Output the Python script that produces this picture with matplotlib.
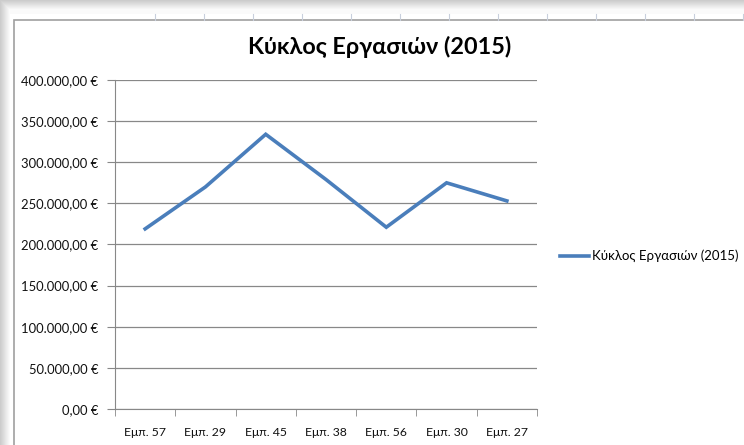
import numpy as np
import matplotlib.pyplot as plt
from matplotlib.patches import Rectangle
from matplotlib.lines import Line2D

# donnees
employes = ['Εμπ. 57', 'Εμπ. 29', 'Εμπ. 45', 'Εμπ. 38', 'Εμπ. 56', 'Εμπ. 30', 'Εμπ. 27']
kyklos = [219000, 270000, 334000, 279000, 221000, 275000, 253000]
yticks = [0, 50000, 100000, 150000, 200000, 250000, 300000, 350000, 400000]
titre = 'Κύκλος Εργασιών (2015)'

plt.rcParams['font.family'] = ['Lato', 'DejaVu Sans']

W, H = 744, 445
fig = plt.figure(figsize=(W / 100, H / 100), dpi=100)

# cadre du graphique (capture Excel)
for i in range(10):
    c = 0.80 + 0.02 * i
    fig.patches.append(Rectangle((i / W, 0), 1, 1 - i / H, transform=fig.transFigure,
                                 facecolor=(c, c, c), edgecolor='none', zorder=-10))
fig.patches.append(Rectangle((10 / W, 0), 1, 1 - 14 / H, transform=fig.transFigure,
                             facecolor='white', edgecolor='none', zorder=-9))
for xc in range(155, W, 49):
    fig.add_artist(Line2D([xc / W, xc / W], [1 - 20 / H, 1 - 14 / H], color='#c8cfdc', lw=0.8))
fig.patches.append(Rectangle((14 / W, -0.01), 1, 1 - 20 / H + 0.01, transform=fig.transFigure,
                             facecolor='white', edgecolor='#a0a0a0', lw=1.2, zorder=-8))

ax = fig.add_axes([115 / W, 36 / H, 422 / W, 329 / H])
x = np.arange(len(employes))
ax.plot(x, kyklos, color='#4a7ebb', lw=2.6, solid_joinstyle='miter', label=titre)

ax.set_xlim(-0.5, len(employes) - 0.5)
ax.set_ylim(0, 400000)
ax.set_yticks(yticks)
ax.set_yticklabels(['{:,.2f}'.format(v).replace(',', ' ').replace('.', ',').replace(' ', '.') + ' €'
                    for v in yticks], fontsize=9.4, color='#111111')
ax.set_xticks(x)
ax.set_xticklabels(employes, fontsize=8.8, color='#111111')
ax.set_xticks(np.arange(-0.5, len(employes)), minor=True)
ax.tick_params(axis='x', which='major', length=0, pad=13)
ax.tick_params(axis='x', which='minor', length=5, color='#888888', direction='out')
ax.tick_params(axis='y', length=6, color='#888888', direction='out', pad=6)

ax.grid(axis='y', color='#888888', lw=0.9)
ax.set_axisbelow(True)
for s in ['top', 'right']:
    ax.spines[s].set_visible(False)
ax.spines['left'].set_color('#888888')
ax.spines['bottom'].set_color('#888888')

fig.text(380 / W, 1 - 47 / H, titre, ha='center', va='center', fontsize=16.8, fontweight='bold')

fig.legend(loc='center left', bbox_to_anchor=(548 / W, 1 - 256 / H), frameon=False,
           fontsize=9.5, handlelength=2.2, handletextpad=0.25)

fig.savefig('out.png', dpi=100)
